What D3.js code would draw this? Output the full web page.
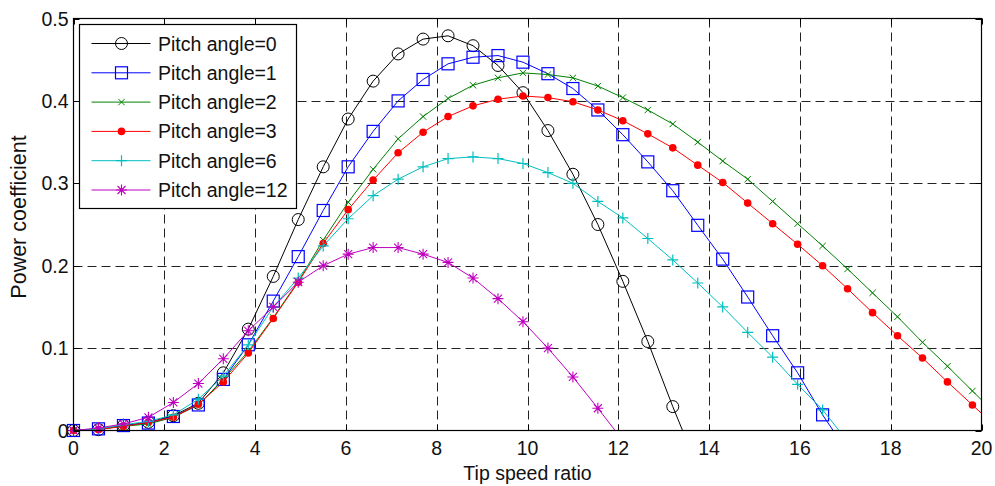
<!DOCTYPE html>
<html>
<head>
<meta charset="utf-8">
<script src="https://cdn.jsdelivr.net/npm/d3@7"></script>
<style>
  html, body { margin: 0; padding: 0; background: #fff; }
  svg { display: block; font-family: "Liberation Sans", Arial, sans-serif; }
</style>
</head>
<body>
<div id="chart"></div>
<script>
// Tip speed ratio samples (shared by all curves)
const tsr = [0, 0.55, 1.1, 1.65, 2.2, 2.75, 3.3, 3.85, 4.4, 4.95, 5.5, 6.05, 6.6, 7.15, 7.7, 8.25,
  8.8, 9.35, 9.9, 10.45, 11, 11.55, 12.1, 12.65, 13.2, 13.75, 14.3, 14.85, 15.4, 15.95, 16.5,
  17.05, 17.6, 18.15, 18.7, 19.25, 19.8, 20.35];

// Power coefficient per pitch angle
const cp0 = [0, 0.001, 0.006, 0.010, 0.018, 0.033, 0.070, 0.123, 0.187, 0.256, 0.320, 0.378, 0.424,
  0.457, 0.475, 0.479, 0.467, 0.443, 0.410, 0.364, 0.311, 0.250, 0.181, 0.108, 0.029, -0.045];
const cp1 = [0, 0.002, 0.006, 0.009, 0.017, 0.031, 0.062, 0.104, 0.157, 0.211, 0.267, 0.320, 0.363,
  0.400, 0.426, 0.445, 0.453, 0.455, 0.447, 0.433, 0.415, 0.389, 0.359, 0.326, 0.291, 0.249, 0.208,
  0.162, 0.115, 0.070, 0.019, -0.026];
const cp2 = [0, 0.002, 0.005, 0.008, 0.016, 0.031, 0.062, 0.096, 0.137, 0.181, 0.231, 0.277, 0.317,
  0.354, 0.381, 0.403, 0.419, 0.428, 0.434, 0.432, 0.428, 0.418, 0.404, 0.389, 0.372, 0.350, 0.327,
  0.305, 0.278, 0.251, 0.224, 0.196, 0.167, 0.138, 0.107, 0.078, 0.048, 0.018];
const cp3 = [0, 0.001, 0.005, 0.010, 0.016, 0.032, 0.059, 0.094, 0.136, 0.180, 0.227, 0.268, 0.304,
  0.337, 0.362, 0.381, 0.394, 0.402, 0.406, 0.404, 0.399, 0.389, 0.376, 0.360, 0.343, 0.322, 0.301,
  0.276, 0.251, 0.226, 0.200, 0.172, 0.143, 0.115, 0.088, 0.059, 0.031, 0.003];
const cp6 = [0, 0.002, 0.007, 0.011, 0.019, 0.038, 0.066, 0.104, 0.150, 0.185, 0.224, 0.257, 0.285,
  0.305, 0.320, 0.330, 0.332, 0.330, 0.324, 0.313, 0.300, 0.278, 0.258, 0.233, 0.207, 0.179, 0.150,
  0.119, 0.089, 0.056, 0.025, -0.013];
const cp12 = [0, 0.003, 0.008, 0.016, 0.034, 0.057, 0.087, 0.121, 0.150, 0.180, 0.200, 0.214, 0.222,
  0.222, 0.214, 0.204, 0.185, 0.160, 0.132, 0.100, 0.065, 0.027, -0.012];

const seriesNames = ['Pitch angle=0', 'Pitch angle=1', 'Pitch angle=2', 'Pitch angle=3', 'Pitch angle=6', 'Pitch angle=12'];
const seriesValues = [cp0, cp1, cp2, cp3, cp6, cp12];
const xTicks = [0, 2, 4, 6, 8, 10, 12, 14, 16, 18, 20];
const yTicks = [0, 0.1, 0.2, 0.3, 0.4, 0.5];

const styles = [
  { color: '#000000', marker: 'circle' },
  { color: '#0000ff', marker: 'square' },
  { color: '#008000', marker: 'x' },
  { color: '#ff0000', marker: 'dot' },
  { color: '#00bfbf', marker: 'plus' },
  { color: '#bf00bf', marker: 'star' }
];

const W = 995, H = 486;
const pL = 73.5, pR = 981.5, pT = 18.5, pB = 430.5;
const FS = 19.5;

const x = d3.scaleLinear().domain([0, 20]).range([pL, pR]);
const y = d3.scaleLinear().domain([0, 0.5]).range([pB, pT]);

const svg = d3.select('#chart').append('svg')
  .attr('width', W).attr('height', H)
  .attr('viewBox', `0 0 ${W} ${H}`);

svg.append('defs').append('clipPath').attr('id', 'plot-clip')
  .append('rect').attr('x', pL).attr('y', pT)
  .attr('width', pR - pL).attr('height', pB - pT);

// Grid (dashed)
const grid = svg.append('g').attr('stroke', '#222').attr('stroke-width', 1)
  .attr('stroke-dasharray', '9,5').attr('fill', 'none');
xTicks.slice(1, -1).forEach(t => {
  grid.append('line').attr('x1', Math.round(x(t)) + 0.5).attr('x2', Math.round(x(t)) + 0.5)
    .attr('y1', pT).attr('y2', pB);
});
yTicks.slice(1, -1).forEach(t => {
  grid.append('line').attr('y1', Math.round(y(t)) + 0.5).attr('y2', Math.round(y(t)) + 0.5)
    .attr('x1', pL).attr('x2', pR);
});

// Marker drawing
function drawMarker(g, type, cx, cy, color) {
  if (type === 'circle') {
    g.append('circle').attr('cx', cx).attr('cy', cy).attr('r', 6)
      .attr('fill', 'none').attr('stroke', color).attr('stroke-width', 1);
  } else if (type === 'square') {
    g.append('rect').attr('x', cx - 6).attr('y', cy - 6).attr('width', 12).attr('height', 12)
      .attr('fill', 'none').attr('stroke', color).attr('stroke-width', 1.2);
  } else if (type === 'x') {
    const s = 3.2;
    g.append('path').attr('d', `M${cx - s},${cy - s}L${cx + s},${cy + s}M${cx - s},${cy + s}L${cx + s},${cy - s}`)
      .attr('stroke', color).attr('stroke-width', 1).attr('fill', 'none');
  } else if (type === 'dot') {
    g.append('circle').attr('cx', cx).attr('cy', cy).attr('r', 3.8).attr('fill', color);
  } else if (type === 'plus') {
    const s = 5.5;
    g.append('path').attr('d', `M${cx - s},${cy}L${cx + s},${cy}M${cx},${cy - s}L${cx},${cy + s}`)
      .attr('stroke', color).attr('stroke-width', 1.2).attr('fill', 'none');
  } else if (type === 'star') {
    const s = 5.5, d = 4;
    g.append('path').attr('d', `M${cx - s},${cy}L${cx + s},${cy}M${cx},${cy - s}L${cx},${cy + s}` +
      `M${cx - d},${cy - d}L${cx + d},${cy + d}M${cx - d},${cy + d}L${cx + d},${cy - d}`)
      .attr('stroke', color).attr('stroke-width', 1.1).attr('fill', 'none');
  }
}

// Curves
const line = d3.line().x((d, i) => x(tsr[i])).y(d => y(d));
seriesValues.forEach((vals, k) => {
  const st = styles[k];
  const g = svg.append('g');
  g.append('path').datum(vals).attr('d', line)
    .attr('clip-path', 'url(#plot-clip)')
    .attr('fill', 'none').attr('stroke', st.color).attr('stroke-width', 1);
  vals.forEach((v, i) => {
    if (v >= 0 && tsr[i] <= 20) drawMarker(g, st.marker, x(tsr[i]), y(v), st.color);
  });
});

// Axes box and ticks
svg.append('rect').attr('x', pL).attr('y', pT).attr('width', pR - pL).attr('height', pB - pT)
  .attr('fill', 'none').attr('stroke', '#000').attr('stroke-width', 1.2);

const ticks = svg.append('g').attr('stroke', '#000').attr('stroke-width', 1);
xTicks.forEach(t => {
  const px = Math.round(x(t)) + 0.5;
  ticks.append('line').attr('x1', px).attr('x2', px).attr('y1', pB).attr('y2', pB - 6);
  ticks.append('line').attr('x1', px).attr('x2', px).attr('y1', pT).attr('y2', pT + 6);
});
yTicks.forEach(t => {
  const py = Math.round(y(t)) + 0.5;
  ticks.append('line').attr('y1', py).attr('y2', py).attr('x1', pL).attr('x2', pL + 6);
  ticks.append('line').attr('y1', py).attr('y2', py).attr('x1', pR).attr('x2', pR - 6);
});

svg.append('g').selectAll('text').data(xTicks).enter().append('text')
  .attr('x', d => x(d)).attr('y', 455)
  .attr('text-anchor', 'middle').attr('font-size', FS).attr('fill', '#111')
  .text(d => d);

svg.append('g').selectAll('text').data(yTicks).enter().append('text')
  .attr('x', 68.5).attr('y', d => y(d)).attr('dy', '0.36em')
  .attr('text-anchor', 'end').attr('font-size', FS).attr('fill', '#111')
  .text(d => d === 0 ? '0' : d3.format('.1f')(d));

svg.append('text').attr('x', (pL + pR) / 2).attr('y', 480)
  .attr('text-anchor', 'middle').attr('font-size', FS).attr('fill', '#111')
  .text('Tip speed ratio');

svg.append('text').attr('transform', 'translate(26,217) rotate(-90)')
  .attr('text-anchor', 'middle').attr('font-size', 21.5).attr('fill', '#111')
  .text('Power coefficient');

// Legend
const lg = svg.append('g');
lg.append('rect').attr('x', 79.5).attr('y', 24.5).attr('width', 217).attr('height', 184)
  .attr('fill', '#fff').attr('stroke', '#000').attr('stroke-width', 1.2);
seriesNames.forEach((name, k) => {
  const ly = 43.5 + k * 29.3;
  const st = styles[k];
  lg.append('line').attr('x1', 91.5).attr('x2', 150.5).attr('y1', ly).attr('y2', ly)
    .attr('stroke', st.color).attr('stroke-width', 1);
  drawMarker(lg, st.marker, 121.5, ly, st.color);
  lg.append('text').attr('x', 158).attr('y', ly).attr('dy', '0.36em')
    .attr('font-size', FS).attr('fill', '#111').text(name);
});
</script>
</body>
</html>
